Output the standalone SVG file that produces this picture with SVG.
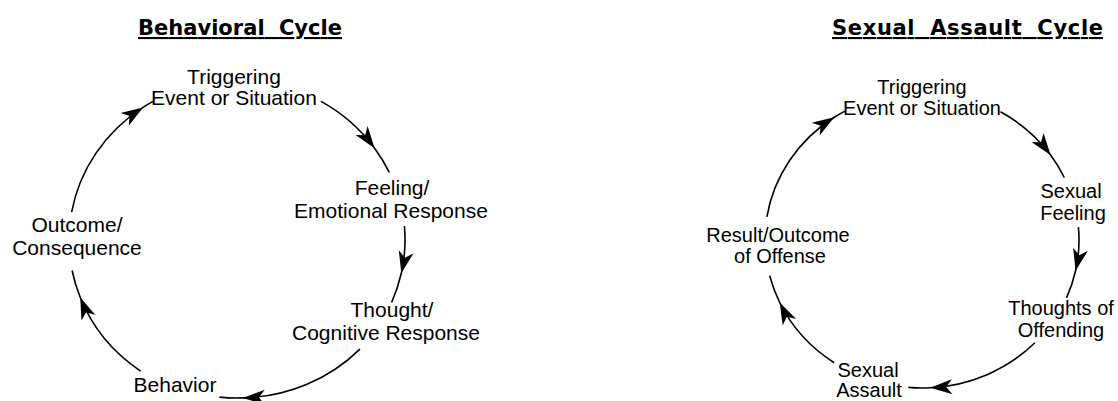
<svg xmlns="http://www.w3.org/2000/svg" width="1118" height="401" viewBox="0 0 1118 401">
  <style>
    .title { font-family: "DejaVu Sans", "Liberation Sans", sans-serif; font-weight: bold; font-size: 21px; text-decoration: underline; fill: #000; }
    .lbl { font-family: "Liberation Sans", Arial, sans-serif; font-size: 21px; fill: #000; text-anchor: middle; }
    .lbl2 { font-family: "Liberation Sans", Arial, sans-serif; font-size: 20px; fill: #000; text-anchor: middle; }
    .arc { fill: none; stroke: #000; stroke-width: 1.6; marker-mid: url(#arrow); }
  </style>
  <defs>
    <marker id="arrow" markerUnits="userSpaceOnUse" viewBox="-24 -10 26 20" markerWidth="26" markerHeight="20" refX="0" refY="0" orient="auto">
      <path d="M0,0 L-22,-7.5 L-16,0 L-22,7.5 Z" fill="#000"/>
    </marker>
  </defs>
  <rect width="1118" height="401" fill="#fff"/>

  <text class="title" x="138" y="35" word-spacing="7" textLength="204" lengthAdjust="spacing">Behavioral Cycle</text>
  <text class="title" x="832" y="35" word-spacing="7" textLength="271" lengthAdjust="spacing">Sexual Assault Cycle</text>

  <g id="connectors">
    <!-- left cycle: center (237,240), rx 168, ry 160 -->
    <path class="arc" d="M71.6,212.2 A168,160 0 0 1 143.1,107.4 A168,160 0 0 1 153,101.4"/>
    <path class="arc" d="M321,101.4 A168,160 0 0 1 374.6,148.2 A168,160 0 0 1 389.3,172.4"/>
    <path class="arc" d="M404.4,226.1 A168,160 0 0 1 401.3,273.3 A168,160 0 0 1 391.6,302.5"/>
    <path class="arc" d="M359.9,349.1 A168,160 0 0 1 242.9,397.9 A168,160 0 0 1 219.4,397.1"/>
    <path class="arc" d="M140.6,371.1 A168,160 0 0 1 80.2,297.3 A168,160 0 0 1 72.1,270.5"/>
    <!-- right cycle: center (922,240), rx 157, ry 148 -->
    <path class="arc" d="M766.9,216.9 A157,148 0 0 1 834.2,117.3 A157,148 0 0 1 845.9,110.6"/>
    <path class="arc" d="M1000.5,111.8 A157,148 0 0 1 1050.6,155.1 A157,148 0 0 1 1064.3,177.5"/>
    <path class="arc" d="M1078.4,227.1 A157,148 0 0 1 1075.6,270.8 A157,148 0 0 1 1066.5,297.8"/>
    <path class="arc" d="M1034.9,342.8 A157,148 0 0 1 930.2,387.8 A157,148 0 0 1 908.3,387.4"/>
    <path class="arc" d="M834.2,362.7 A157,148 0 0 1 779.7,302.5 A157,148 0 0 1 769.7,275.8"/>
  </g>

  <g id="b-trigger">
    <text class="lbl" x="234" y="84">Triggering</text>
    <text class="lbl" x="234" y="105">Event or Situation</text>
  </g>
  <g id="b-feeling">
    <text class="lbl" x="392" y="195">Feeling/</text>
    <text class="lbl" x="391" y="218">Emotional Response</text>
  </g>
  <g id="b-thought">
    <text class="lbl" x="392" y="317">Thought/</text>
    <text class="lbl" x="386" y="340">Cognitive Response</text>
  </g>
  <g id="b-behavior">
    <text class="lbl" x="175" y="392">Behavior</text>
  </g>
  <g id="b-outcome">
    <text class="lbl" x="77" y="232">Outcome/</text>
    <text class="lbl" x="77" y="255">Consequence</text>
  </g>

  <g id="s-trigger">
    <text class="lbl2" x="922" y="94">Triggering</text>
    <text class="lbl2" x="922" y="115">Event or Situation</text>
  </g>
  <g id="s-feeling">
    <text class="lbl2" x="1071" y="198">Sexual</text>
    <text class="lbl2" x="1073" y="220">Feeling</text>
  </g>
  <g id="s-thoughts">
    <text class="lbl2" x="1061" y="315">Thoughts of</text>
    <text class="lbl2" x="1061" y="337">Offending</text>
  </g>
  <g id="s-assault">
    <text class="lbl2" x="868" y="377">Sexual</text>
    <text class="lbl2" x="869" y="397">Assault</text>
  </g>
  <g id="s-result">
    <text class="lbl2" x="778" y="242">Result/Outcome</text>
    <text class="lbl2" x="780" y="263">of Offense</text>
  </g>
</svg>
